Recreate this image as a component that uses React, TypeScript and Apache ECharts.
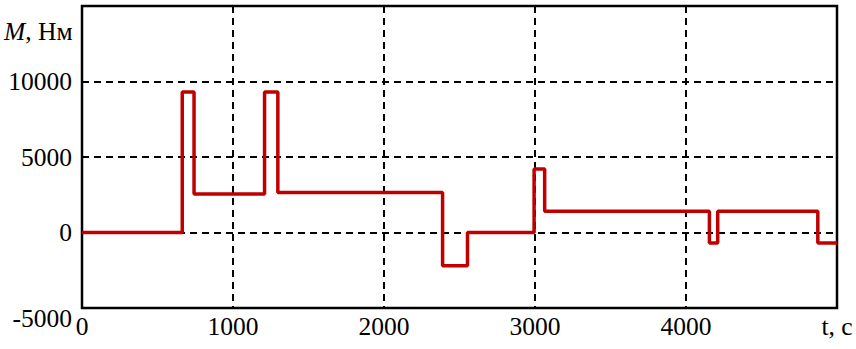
import React, { useEffect, useRef } from "react";
import * as echarts from "echarts";

const times = [0, 664, 742, 1209, 1297, 2388, 2553, 2994, 3064, 4155, 4210, 4873, 5000];
const torque = [0, 9300, 2550, 9300, 2650, -2200, 0, 4200, 1400, -700, 1400, -700, -700];
const xTicks = [0, 1000, 2000, 3000, 4000, 5000];
const yTicks = [-5000, 0, 5000, 10000, 15000];
const xAxisName = "t, c";
const yAxisNameItalic = "M";
const yAxisNameRest = ", Нм";

const FONT = "Liberation Serif";
const FS = 25.5;

export default function App() {
  const ref = useRef<HTMLDivElement>(null);
  useEffect(() => {
    if (!ref.current) return;
    const chart = echarts.init(ref.current, null, { renderer: "svg" });
    const data = times.map((t, i) => [t, torque[i]]);
    chart.setOption({
      animation: false,
      backgroundColor: "#ffffff",
      textStyle: { fontFamily: FONT },
      grid: {
        left: 82,
        top: 6,
        width: 755,
        height: 302,
        show: true,
        borderColor: "#000",
        borderWidth: 2.5,
        backgroundColor: "transparent",
      },
      xAxis: {
        type: "value",
        min: xTicks[0],
        max: xTicks[xTicks.length - 1],
        interval: 1000,
        axisLine: { show: false },
        axisTick: { show: false },
        splitLine: {
          show: true,
          lineStyle: { color: "#000", width: 2, type: [7, 5] },
        },
        axisLabel: {
          margin: 5,
          fontFamily: FONT,
          fontSize: FS,
          color: "#000",
          showMinLabel: true,
          showMaxLabel: true,
          formatter: (v: number) => (v === xTicks[xTicks.length - 1] ? xAxisName : String(v)),
        },
      },
      yAxis: {
        type: "value",
        min: yTicks[0],
        max: yTicks[yTicks.length - 1],
        interval: 5000,
        axisLine: { show: false },
        axisTick: { show: false },
        splitLine: {
          show: true,
          lineStyle: { color: "#000", width: 2, type: [7, 5] },
        },
        axisLabel: {
          margin: 10,
          fontFamily: FONT,
          fontSize: FS,
          color: "#000",
          formatter: (v: number) => {
            if (v === yTicks[yTicks.length - 1]) return "";
            if (v === yTicks[0]) return "{low|" + v + "}";
            return String(v);
          },
          rich: {
            low: {
              fontFamily: FONT,
              fontSize: FS,
              color: "#000",
              padding: [20, 0, 0, 0],
            },
          },
        },
      },
      graphic: [
        {
          type: "text",
          left: 4,
          top: 18,
          style: {
            text: "{i|" + yAxisNameItalic + "}{n|" + yAxisNameRest + "}",
            rich: {
              i: { fontFamily: FONT, fontSize: FS, fontStyle: "italic", fill: "#000" },
              n: { fontFamily: FONT, fontSize: FS, fill: "#000" },
            },
          },
        },
      ],
      series: [
        {
          type: "line",
          step: "end",
          data,
          showSymbol: false,
          symbol: "none",
          lineStyle: { color: "#c00000", width: 3.5 },
          z: 5,
        },
      ],
    });
    return () => chart.dispose();
  }, []);
  return <div ref={ref} style={{ width: 856, height: 349, position: "absolute", left: 0, top: 0 }} />;
}
